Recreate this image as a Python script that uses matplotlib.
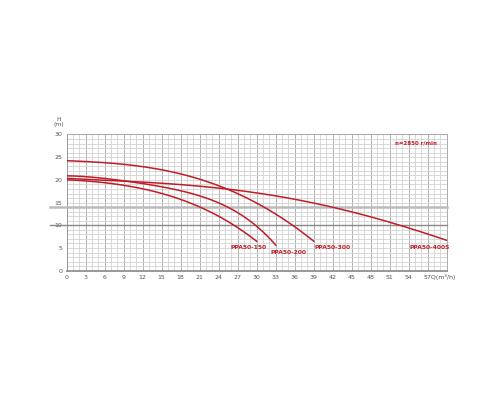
import matplotlib
matplotlib.use('Agg')
import matplotlib.pyplot as plt
import numpy as np

# pump curves, Q (m3/h) vs H (m)
q_150 = [0, 3, 6, 9, 12, 15, 18, 21, 24, 27, 30]
h_150 = [20.0, 19.8, 19.4, 18.8, 18.0, 17.0, 15.7, 14.1, 12.0, 9.4, 6.5]

q_200 = [0, 3, 6, 9, 12, 15, 18, 21, 24, 27, 30, 33]
h_200 = [20.9, 20.7, 20.3, 19.8, 19.2, 18.5, 17.6, 16.5, 14.9, 12.7, 9.9, 5.6]

q_300 = [0, 3, 6, 9, 12, 15, 18, 21, 24, 27, 30, 33, 36, 39]
h_300 = [24.2, 24.1, 23.8, 23.4, 22.9, 22.2, 21.3, 20.2, 18.7, 17.0, 14.9, 12.4, 9.7, 6.5]

q_400 = [0, 6, 12, 18, 24, 30, 36, 42, 48, 54, 60]
h_400 = [20.3, 20.0, 19.5, 18.9, 18.2, 17.1, 15.8, 14.0, 11.8, 9.4, 6.7]

curve_names = ['PPA50-150', 'PPA50-200', 'PPA50-300', 'PPA50-400S']
label_pos = [(28.7, 5.1), (35.0, 4.1), (41.9, 5.1), (57.3, 5.2)]
ref_levels = [14, 10]

x_ticks = list(range(0, 58, 3))
y_ticks = list(range(0, 31, 5))

red = '#c01d29'

fig = plt.figure(figsize=(5, 4), dpi=100)
ax = fig.add_axes([0.1334, 0.3233, 0.76, 0.3405])

def smooth(q, h):
    xs = np.linspace(q[0], q[-1], 200)
    coef = np.polyfit(q, h, 4)
    return xs, np.polyval(coef, xs)

for q, h in [(q_150, h_150), (q_200, h_200), (q_300, h_300), (q_400, h_400)]:
    xs, ys = smooth(q, h)
    ax.plot(xs, ys, color=red, lw=1.1, zorder=4)

for name, (lx, ly) in zip(curve_names, label_pos):
    ax.text(lx, ly, name, color=red, fontsize=4.3, fontweight='bold',
            ha='center', va='center')
ax.text(55.1, 28.2, 'n=2850 r/min', color=red, fontsize=4.0, fontweight='bold',
        ha='center', va='center')

ax.set_xlim(0, 60)
ax.set_ylim(0, 30)
ax.set_xticks(x_ticks)
ax.set_xticklabels([str(t) if t != 57 else '' for t in x_ticks])
ax.set_yticks(y_ticks)
ax.set_xticks(range(0, 61), minor=True)
ax.set_yticks(range(0, 31), minor=True)
ax.grid(True, which='minor', color='#d2d2d2', lw=0.6)
ax.grid(True, which='major', axis='x', color='#b0b0b0', lw=0.7)
ax.grid(True, which='major', axis='y', color='#d2d2d2', lw=0.6)
ax.set_axisbelow(True)
ax.tick_params(which='both', length=0, labelsize=4.5, labelcolor='#555555', pad=3)
ax.text(56.4, -1.35, '57Q(m\u00b3/h)', fontsize=4.5, color='#555555',
        ha='left', va='center')

for s in ax.spines.values():
    s.set_color('#aaaaaa')
    s.set_linewidth(0.7)
ax.spines['bottom'].set_color('#888888')
ax.spines['bottom'].set_linewidth(1.2)
ax.spines['left'].set_color('#999999')

# reference lines running out past the left axis
ax.plot([-2.6, 60], [ref_levels[0]] * 2, color='#bbbbbb', lw=1.8,
        clip_on=False, zorder=3)
ax.plot([-2.6, 60], [ref_levels[1]] * 2, color='#888888', lw=1.0,
        clip_on=False, zorder=3)

ax.text(-1.2, 31.6, 'H\n(m)', fontsize=4.3, color='#555555',
        ha='center', va='bottom', linespacing=1.1)

fig.savefig('out.png', dpi=100)
